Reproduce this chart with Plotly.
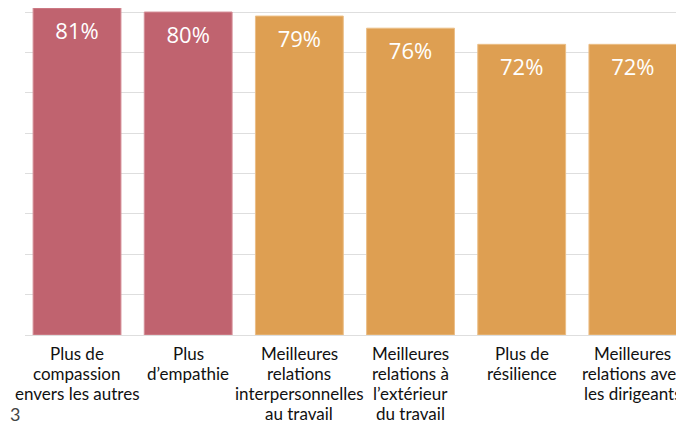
import plotly.graph_objects as go

categories = ["c1", "c2", "c3", "c4", "c5", "c6"]
tick_labels = [
    "Plus de<br>compassion<br>envers les autres",
    "Plus<br>d’empathie",
    "Meilleures<br>relations<br>interpersonnelles<br>au travail",
    "Meilleures<br>relations à<br>l’extérieur<br>du travail",
    "Plus de<br>résilience",
    "Meilleures<br>relations avec<br>les dirigeants",
]
values = [81, 80, 79, 76, 72, 72]
value_labels = ["81%", "80%", "79%", "76%", "72%", "72%"]
bar_colors = ["#C0636F", "#C0636F", "#DE9F52", "#DE9F52", "#DE9F52", "#DE9F52"]
edge_colors = ["#D58E97", "#D58E97", "#EBBE86", "#EBBE86", "#EBBE86", "#EBBE86"]

# page has an 8px body margin: figure is sized to fit the visible window
W, H = 676, 419
ML, MB = 17, 92

fig = go.Figure()
fig.add_trace(go.Bar(
    x=categories, y=values,
    marker=dict(color=bar_colors, line=dict(color=edge_colors, width=1)),
    width=0.79,
    hoverinfo="skip",
))
fig.add_trace(go.Scatter(
    x=categories, y=values, mode="markers+text",
    text=value_labels, textposition="bottom center",
    marker=dict(size=21, opacity=0),
    textfont=dict(family="Open Sans", size=22, color="white"),
    cliponaxis=False, hoverinfo="skip",
))

annotations = []
for c, lab in zip(categories, tick_labels):
    for j, line in enumerate(lab.split("<br>")):
        annotations.append(dict(
            x=c, y=0, xref="x", yref="y", text=line, showarrow=False,
            yanchor="middle", yshift=-18 - 20 * j,
            font=dict(family="Lato", size=17, color="#111111"),
        ))

plot_h = H - MB
annotations.append(dict(
    x=(0 - ML) / (W - ML), y=-MB / plot_h, xref="paper", yref="paper",
    text="3", showarrow=False, xanchor="left", yanchor="bottom",
    font=dict(family="Lato", size=18, color="#444444"),
))

fig.update_layout(
    width=W, height=H,
    margin=dict(l=ML, r=0, t=0, b=MB),
    paper_bgcolor="white", plot_bgcolor="white",
    showlegend=False,
    annotations=annotations,
)
fig.update_xaxes(type="category", range=[-0.468, 5.46], showticklabels=False,
                 showgrid=False, zeroline=False, showline=False)
fig.update_yaxes(range=[0, 81], dtick=10, showgrid=True, gridcolor="#DEDEDE",
                 gridwidth=1, zeroline=True, zerolinecolor="#DEDEDE", zerolinewidth=1,
                 showticklabels=False, showline=False)

fig.write_html("out.html")
